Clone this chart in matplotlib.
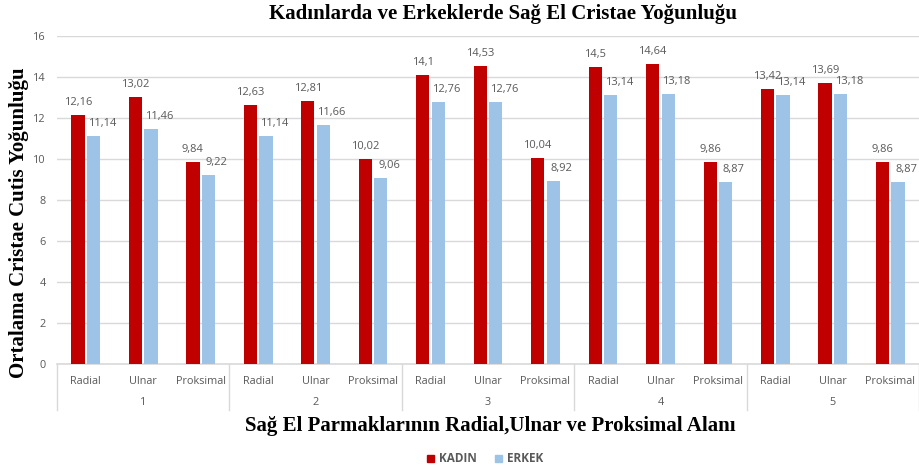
import matplotlib.pyplot as plt
from matplotlib.patches import Rectangle
import numpy as np

groups = ['1', '2', '3', '4', '5']
areas = ['Radial', 'Ulnar', 'Proksimal']
kadin = [12.16, 13.02, 9.84, 12.63, 12.81, 10.02, 14.1, 14.53, 10.04,
         14.5, 14.64, 9.86, 13.42, 13.69, 9.86]
erkek = [11.14, 11.46, 9.22, 11.14, 11.66, 9.06, 12.76, 12.76, 8.92,
         13.14, 13.18, 8.87, 13.14, 13.18, 8.87]

RED = '#C00000'
BLUE = '#9DC3E6'
GREY = '#595959'
TICKFONT = 'Open Sans'
SERIF = 'Liberation Serif'


def fmt(v):
    s = f"{v:.2f}".rstrip('0').rstrip('.')
    return s.replace('.', ',')


fig = plt.figure(figsize=(9.19, 4.71), dpi=100)
ax = fig.add_axes([57 / 919, 1 - 364 / 471, 862 / 919, 328 / 471])

x = np.arange(len(kadin))
w = 0.23
off = 0.135
ax.bar(x - off, kadin, width=w, color=RED, zorder=3)
ax.bar(x + off, erkek, width=w, color=BLUE, zorder=3)

for xi, v in zip(x, kadin):
    ax.annotate(fmt(v), (xi - off, v), xytext=(0, 5), textcoords='offset points',
                ha='center', va='bottom', fontsize=8, color=GREY, family=TICKFONT)
for xi, v in zip(x, erkek):
    ax.annotate(fmt(v), (xi + off, v), xytext=(6, 5), textcoords='offset points',
                ha='center', va='bottom', fontsize=8, color=GREY, family=TICKFONT)

ax.set_xlim(-0.5, len(kadin) - 0.5)
ax.set_ylim(0, 16)
ax.set_yticks(range(0, 17, 2))
ax.yaxis.grid(True, color='#d9d9d9', linewidth=1, zorder=0)
ax.tick_params(axis='y', length=0, pad=8, labelsize=7.8, labelcolor=GREY)
for lab in ax.get_yticklabels():
    lab.set_family(TICKFONT)

ax.set_xticks(x)
ax.set_xticklabels(areas * len(groups), fontsize=7.8, color=GREY, family=TICKFONT)
ax.tick_params(axis='x', length=0, pad=9)

for s in ['top', 'right', 'left']:
    ax.spines[s].set_visible(False)
ax.spines['bottom'].set_color('#d9d9d9')
ax.spines['bottom'].set_linewidth(1.2)

# group labels and separators below the axis
trans = ax.get_xaxis_transform()
for i, g in enumerate(groups):
    ax.text(i * 3 + 1, -0.118, g, transform=trans, ha='center', va='center',
            fontsize=7.8, color=GREY, family=TICKFONT)
for b in np.arange(-0.5, len(kadin), 3):
    ax.plot([b, b], [0, -0.14], transform=trans, color='#d9d9d9',
            linewidth=1, clip_on=False)

fig.text(503 / 919, 1 - 14 / 471, 'Kadınlarda ve Erkeklerde Sağ El Cristae Yoğunluğu',
         ha='center', va='center', fontsize=15, fontweight='bold', family=SERIF)
fig.text(490 / 919, 1 - 426 / 471, 'Sağ El Parmaklarının Radial,Ulnar ve Proksimal Alanı',
         ha='center', va='center', fontsize=15, fontweight='bold', family=SERIF)
fig.text(19 / 919, 1 - 223 / 471, 'Ortalama Cristae Cutis Yoğunluğu', rotation=90,
         ha='center', va='center', fontsize=15, fontweight='bold', family=SERIF)

handles = [Rectangle((0, 0), 1, 1, color=RED), Rectangle((0, 0), 1, 1, color=BLUE)]
leg = fig.legend(handles, ['KADIN', 'ERKEK'], loc='center', ncol=2,
                 bbox_to_anchor=(485 / 919, 1 - 459 / 471), frameon=False,
                 handlelength=0.6, handleheight=0.6, handletextpad=0.4,
                 columnspacing=1.6, prop={'family': TICKFONT, 'size': 8.5, 'weight': 'bold'})
for t in leg.get_texts():
    t.set_color(GREY)

fig.savefig('out.png', dpi=100)
